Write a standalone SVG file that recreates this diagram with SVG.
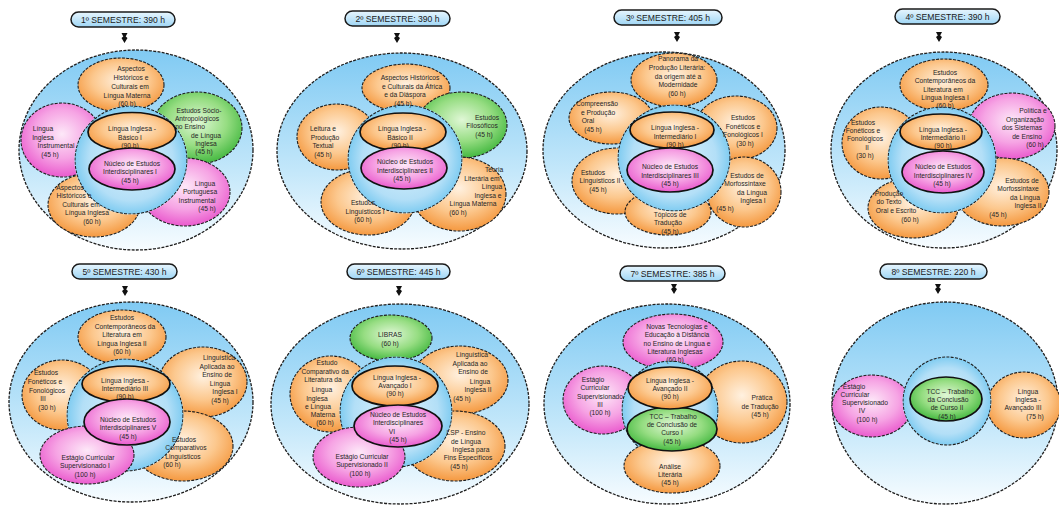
<svg xmlns="http://www.w3.org/2000/svg" width="1059" height="508" viewBox="0 0 1059 508">
<style>
.outer{fill:url(#gOuter);stroke:#1e1e1e;stroke-width:1.3;stroke-dasharray:3 1.3}
.ring{fill:url(#gRing);stroke:#1e1e1e;stroke-width:1.1;stroke-dasharray:3 1.3}
.po{fill:url(#gOr);stroke:#1e1e1e;stroke-width:1.1;stroke-dasharray:3 1.3}
.pp{fill:url(#gPk);stroke:#1e1e1e;stroke-width:1.1;stroke-dasharray:3 1.3}
.pg{fill:url(#gGr);stroke:#1e1e1e;stroke-width:1.1;stroke-dasharray:3 1.3}
.co{fill:url(#gOr);stroke:#111;stroke-width:1.7}
.cp{fill:url(#gPk);stroke:#111;stroke-width:1.7}
.cg{fill:url(#gGr);stroke:#111;stroke-width:1.7}
.pill{fill:url(#gPill);stroke:#1a1a1a;stroke-width:1.5}
.t{font-family:"Liberation Sans",Arial,sans-serif;font-size:6.7px;fill:#262626;text-anchor:middle;dominant-baseline:central}
.pt{font-family:"Liberation Sans",Arial,sans-serif;font-size:8.6px;fill:#1a1a1a;text-anchor:middle;dominant-baseline:central}
.arr{fill:#111}
</style>
<defs>
<linearGradient id="gOuter" x1="0" y1="0" x2="0" y2="1"><stop offset="0" stop-color="#80caf3"/><stop offset="0.6" stop-color="#c3e7fa"/><stop offset="1" stop-color="#f7fcff"/></linearGradient>
<radialGradient id="gRing" cx="0.5" cy="0.5" r="0.5"><stop offset="0" stop-color="#dcf2fc"/><stop offset="0.75" stop-color="#b3dff7"/><stop offset="1" stop-color="#80ccf1"/></radialGradient>
<radialGradient id="gOr" cx="0.5" cy="0.42" r="0.6"><stop offset="0" stop-color="#fff1e0"/><stop offset="0.55" stop-color="#fcc88e"/><stop offset="1" stop-color="#f4953a"/></radialGradient>
<radialGradient id="gPk" cx="0.5" cy="0.42" r="0.6"><stop offset="0" stop-color="#fde8f8"/><stop offset="0.55" stop-color="#f6a4e4"/><stop offset="1" stop-color="#e955cc"/></radialGradient>
<radialGradient id="gGr" cx="0.5" cy="0.42" r="0.6"><stop offset="0" stop-color="#e0f7d6"/><stop offset="0.55" stop-color="#96dd82"/><stop offset="1" stop-color="#3db53b"/></radialGradient>
<linearGradient id="gPill" x1="0" y1="0" x2="0" y2="1"><stop offset="0" stop-color="#e8f6fe"/><stop offset="1" stop-color="#9fd6f5"/></linearGradient>
<path id="arw" class="arr" d="M-3,-5 H3 L1.2,-1.5 L3,0 L0,5 L-3,0 L-1.2,-1.5 Z"/>
<mask id="m1" maskUnits="userSpaceOnUse" x="0" y="0" width="1059" height="508"><rect width="1059" height="508" fill="#fff"/><ellipse cx="131" cy="160" rx="56.6" ry="54.6" fill="#000"/></mask>
<mask id="m2" maskUnits="userSpaceOnUse" x="0" y="0" width="1059" height="508"><rect width="1059" height="508" fill="#fff"/><ellipse cx="405" cy="159" rx="57.6" ry="54.6" fill="#000"/></mask>
<mask id="m3" maskUnits="userSpaceOnUse" x="0" y="0" width="1059" height="508"><rect width="1059" height="508" fill="#fff"/><ellipse cx="674" cy="158" rx="56.6" ry="53.6" fill="#000"/></mask>
<mask id="m4" maskUnits="userSpaceOnUse" x="0" y="0" width="1059" height="508"><rect width="1059" height="508" fill="#fff"/><ellipse cx="942" cy="160" rx="54.6" ry="53.6" fill="#000"/></mask>
<mask id="m5" maskUnits="userSpaceOnUse" x="0" y="0" width="1059" height="508"><rect width="1059" height="508" fill="#fff"/><ellipse cx="125" cy="415" rx="58.6" ry="56.6" fill="#000"/></mask>
<mask id="m6" maskUnits="userSpaceOnUse" x="0" y="0" width="1059" height="508"><rect width="1059" height="508" fill="#fff"/><ellipse cx="396" cy="412" rx="56.6" ry="55.6" fill="#000"/></mask>
<mask id="m7" maskUnits="userSpaceOnUse" x="0" y="0" width="1059" height="508"><rect width="1059" height="508" fill="#fff"/><ellipse cx="670" cy="410" rx="48.6" ry="49.6" fill="#000"/></mask>
<mask id="m8" maskUnits="userSpaceOnUse" x="0" y="0" width="1059" height="508"><rect width="1059" height="508" fill="#fff"/><ellipse cx="947" cy="401" rx="44.6" ry="44.6" fill="#000"/></mask>
</defs>

<g id="connectors">
<use href="#arw" x="124.5" y="38"/>
<use href="#arw" x="397" y="38"/>
<use href="#arw" x="677" y="37"/>
<use href="#arw" x="939" y="37"/>
<use href="#arw" x="125" y="291"/>
<use href="#arw" x="399" y="291"/>
<use href="#arw" x="674" y="289"/>
<use href="#arw" x="938" y="289"/>
</g>

<!-- Semestre 1 -->
<g id="s1-title"><rect class="pill" x="71" y="12" width="104" height="15" rx="7.5"/><text class="pt" x="123" y="19.5">1º SEMESTRE: 390 h</text></g>
<g id="s1-outer"><ellipse class="outer" cx="136" cy="150" rx="117" ry="100"/></g>
<g id="s1-ring"><ellipse class="ring" cx="131" cy="160" rx="56" ry="54"/></g>
<g id="s1-n-instr"><ellipse class="pp" mask="url(#m1)" cx="62" cy="140" rx="41" ry="37"/><text class="t"><tspan x="43" y="128">Língua</tspan><tspan x="43" y="136.5">Inglesa</tspan><tspan x="56" y="145">Instrumental</tspan><tspan x="50" y="153.5">(45 h)</tspan></text></g>
<g id="s1-n-ahclm"><ellipse class="po" mask="url(#m1)" cx="121" cy="85" rx="43" ry="27"/><text class="t"><tspan x="131" y="68">Aspectos</tspan><tspan x="131" y="77">Históricos e</tspan><tspan x="130" y="86">Culturais em</tspan><tspan x="127" y="95">Língua Materna</tspan><tspan x="127" y="103">(60 h)</tspan></text></g>
<g id="s1-n-esa"><ellipse class="pg" mask="url(#m1)" cx="197" cy="128" rx="45" ry="36"/><text class="t"><tspan x="199" y="110">Estudos Sócio-</tspan><tspan x="197" y="118">Antropológicos</tspan><tspan x="190" y="126">no Ensino</tspan><tspan x="206" y="134.5">de Língua</tspan><tspan x="206" y="142.5">Inglesa</tspan><tspan x="204" y="151">(45 h)</tspan></text></g>
<g id="s1-n-lpi"><ellipse class="pp" mask="url(#m1)" cx="185" cy="192" rx="45" ry="34"/><text class="t"><tspan x="205" y="183">Língua</tspan><tspan x="200" y="191">Portuguesa</tspan><tspan x="197" y="199.5">Instrumental</tspan><tspan x="207" y="208">(45 h)</tspan></text></g>
<g id="s1-n-ahcli"><ellipse class="po" mask="url(#m1)" cx="94" cy="205" rx="46" ry="32"/><text class="t"><tspan x="70" y="187">Aspectos</tspan><tspan x="74" y="195">Históricos e</tspan><tspan x="81" y="203.5">Culturais em</tspan><tspan x="87" y="212">Língua Inglesa</tspan><tspan x="92" y="221">(60 h)</tspan></text></g>
<g id="s1-n-lib1"><ellipse class="co" cx="132" cy="132" rx="44" ry="19.5"/><text class="t"><tspan x="132" y="128">Língua Inglesa -</tspan><tspan x="130" y="136.5">Básico I</tspan><tspan x="130" y="145">(90 h)</tspan></text></g>
<g id="s1-n-nei1"><ellipse class="cp" cx="132" cy="169" rx="43" ry="21"/><text class="t"><tspan x="132" y="163">Núcleo de Estudos</tspan><tspan x="130" y="171">Interdisciplinares I</tspan><tspan x="130" y="180">(45 h)</tspan></text></g>

<!-- Semestre 2 -->
<g id="s2-title"><rect class="pill" x="345" y="11" width="105" height="15" rx="7.5"/><text class="pt" x="397.5" y="18.5">2º SEMESTRE: 390 h</text></g>
<g id="s2-outer"><ellipse class="outer" cx="402" cy="151" rx="125" ry="98"/></g>
<g id="s2-ring"><ellipse class="ring" cx="405" cy="159" rx="57" ry="54"/></g>
<g id="s2-n-lpt"><ellipse class="po" mask="url(#m2)" cx="337" cy="137" rx="40" ry="33"/><text class="t"><tspan x="323" y="128">Leitura e</tspan><tspan x="325" y="136.5">Produção</tspan><tspan x="323" y="145">Textual</tspan><tspan x="323" y="153.5">(45 h)</tspan></text></g>
<g id="s2-n-ahcad"><ellipse class="po" mask="url(#m2)" cx="406" cy="88" rx="44" ry="24"/><text class="t"><tspan x="410" y="77">Aspectos Históricos</tspan><tspan x="412" y="85.5">e Culturais da África</tspan><tspan x="405" y="94">e da Diáspora</tspan><tspan x="403" y="102.5">(45 h)</tspan></text></g>
<g id="s2-n-ef"><ellipse class="pg" mask="url(#m2)" cx="462" cy="125" rx="45" ry="33"/><text class="t"><tspan x="487" y="117">Estudos</tspan><tspan x="482" y="125">Filosóficos</tspan><tspan x="484" y="133.5">(45 h)</tspan></text></g>
<g id="s2-n-tl"><ellipse class="po" mask="url(#m2)" cx="459" cy="194" rx="47" ry="37"/><text class="t"><tspan x="494" y="169">Teoria</tspan><tspan x="482" y="177.5">Literária em</tspan><tspan x="492" y="186">Língua</tspan><tspan x="488" y="194.5">Inglesa e</tspan><tspan x="473" y="203">Língua Materna</tspan><tspan x="458" y="211.5">(60 h)</tspan></text></g>
<g id="s2-n-el1"><ellipse class="po" mask="url(#m2)" cx="368" cy="202" rx="47" ry="33"/><text class="t"><tspan x="363" y="202">Estudos</tspan><tspan x="365" y="210.5">Linguísticos I</tspan><tspan x="363" y="219">(60 h)</tspan></text></g>
<g id="s2-n-lib2"><ellipse class="co" cx="403" cy="132" rx="43" ry="19"/><text class="t"><tspan x="402" y="128">Língua Inglesa -</tspan><tspan x="400" y="136.5">Básico II</tspan><tspan x="400" y="144.5">(90 h)</tspan></text></g>
<g id="s2-n-nei2"><ellipse class="cp" cx="404" cy="168" rx="43" ry="21"/><text class="t"><tspan x="405" y="161">Núcleo de Estudos</tspan><tspan x="405" y="169.5">Interdisciplinares II</tspan><tspan x="402" y="178">(45 h)</tspan></text></g>

<!-- Semestre 3 -->
<g id="s3-title"><rect class="pill" x="614" y="10" width="108" height="15" rx="7.5"/><text class="pt" x="668" y="17.5">3º SEMESTRE: 405 h</text></g>
<g id="s3-outer"><ellipse class="outer" cx="664" cy="150" rx="121" ry="98"/></g>
<g id="s3-ring"><ellipse class="ring" cx="674" cy="158" rx="56" ry="53"/></g>
<g id="s3-n-cpo"><ellipse class="po" mask="url(#m3)" cx="611" cy="118" rx="42" ry="26"/><text class="t"><tspan x="597" y="103">Compreensão</tspan><tspan x="598" y="111.5">e Produção</tspan><tspan x="588" y="120">Oral</tspan><tspan x="593" y="128.5">(45 h)</tspan></text></g>
<g id="s3-n-ppl"><ellipse class="po" mask="url(#m3)" cx="674" cy="80" rx="43" ry="27"/><text class="t"><tspan x="678" y="58">Panorama da</tspan><tspan x="677" y="67">Produção Literária:</tspan><tspan x="678" y="75.5">da origem até a</tspan><tspan x="678" y="84">Modernidade</tspan><tspan x="677" y="93">(60 h)</tspan></text></g>
<g id="s3-n-eff1"><ellipse class="po" mask="url(#m3)" cx="736" cy="128" rx="41" ry="32"/><text class="t"><tspan x="743" y="117">Estudos</tspan><tspan x="743" y="125.5">Fonéticos e</tspan><tspan x="743" y="134">Fonológicos I</tspan><tspan x="745" y="142.5">(30 h)</tspan></text></g>
<g id="s3-n-el2"><ellipse class="po" mask="url(#m3)" cx="617" cy="181" rx="45" ry="33"/><text class="t"><tspan x="593" y="172">Estudos</tspan><tspan x="600" y="180">Linguísticos II</tspan><tspan x="598" y="188.5">(45 h)</tspan></text></g>
<g id="s3-n-em1"><ellipse class="po" mask="url(#m3)" cx="744" cy="192" rx="37" ry="35"/><text class="t"><tspan x="747" y="175">Estudos de</tspan><tspan x="745" y="183">Morfossintaxe</tspan><tspan x="752" y="191.5">da Língua</tspan><tspan x="753" y="200">Inglesa I</tspan><tspan x="725" y="208">(45 h)</tspan></text></g>
<g id="s3-n-tt"><ellipse class="po" mask="url(#m3)" cx="668" cy="212" rx="43" ry="23"/><text class="t"><tspan x="670" y="214">Tópicos de</tspan><tspan x="668" y="222">Tradução</tspan><tspan x="670" y="230.5">(45 h)</tspan></text></g>
<g id="s3-n-lii1"><ellipse class="co" cx="672" cy="130" rx="42" ry="18"/><text class="t"><tspan x="675" y="127">Língua Inglesa -</tspan><tspan x="675" y="135.5">Intermediário I</tspan><tspan x="675" y="144">(90 h)</tspan></text></g>
<g id="s3-n-nei3"><ellipse class="cp" cx="670" cy="170" rx="43" ry="22"/><text class="t"><tspan x="670" y="166">Núcleo de Estudos</tspan><tspan x="670" y="174.5">Interdisciplinares III</tspan><tspan x="670" y="183">(45 h)</tspan></text></g>

<!-- Semestre 4 -->
<g id="s4-title"><rect class="pill" x="895" y="9" width="105" height="15" rx="7.5"/><text class="pt" x="947.5" y="16.5">4º SEMESTRE: 390 h</text></g>
<g id="s4-outer"><ellipse class="outer" cx="944" cy="150" rx="113" ry="98"/></g>
<g id="s4-ring"><ellipse class="ring" cx="942" cy="160" rx="54" ry="53"/></g>
<g id="s4-n-eff2"><ellipse class="po" mask="url(#m4)" cx="881" cy="143" rx="39" ry="36"/><text class="t"><tspan x="863" y="122">Estudos</tspan><tspan x="863" y="130">Fonéticos e</tspan><tspan x="865" y="138">Fonológicos</tspan><tspan x="867" y="146.5">II</tspan><tspan x="865" y="155">(30 h)</tspan></text></g>
<g id="s4-n-ecl1"><ellipse class="po" mask="url(#m4)" cx="944" cy="85" rx="44" ry="26"/><text class="t"><tspan x="945" y="72">Estudos</tspan><tspan x="945" y="80">Contemporâneos da</tspan><tspan x="943" y="88.5">Literatura em</tspan><tspan x="945" y="97">Língua Inglesa I</tspan><tspan x="945" y="105">(60 h)</tspan></text></g>
<g id="s4-n-pose"><ellipse class="pp" mask="url(#m4)" cx="1012" cy="126" rx="43" ry="33"/><text class="t"><tspan x="1033" y="110">Política e</tspan><tspan x="1025" y="118.5">Organização</tspan><tspan x="1022" y="127">dos Sistemas</tspan><tspan x="1027" y="135.5">de Ensino</tspan><tspan x="1035" y="144">(60 h)</tspan></text></g>
<g id="s4-n-em2"><ellipse class="po" mask="url(#m4)" cx="1002" cy="192" rx="47" ry="34"/><text class="t"><tspan x="1022" y="180">Estudos de</tspan><tspan x="1018" y="188">Morfossintaxe</tspan><tspan x="1025" y="196.5">da Língua</tspan><tspan x="1028" y="205">Inglesa II</tspan><tspan x="998" y="214">(45 h)</tspan></text></g>
<g id="s4-n-ptoe"><ellipse class="po" mask="url(#m4)" cx="913" cy="208" rx="45" ry="30"/><text class="t"><tspan x="889" y="193">Produção</tspan><tspan x="889" y="201">do Texto</tspan><tspan x="896" y="210">Oral e Escrito</tspan><tspan x="910" y="219">(60 h)</tspan></text></g>
<g id="s4-n-lii2"><ellipse class="co" cx="941" cy="132" rx="41" ry="18"/><text class="t"><tspan x="943" y="129">Língua Inglesa -</tspan><tspan x="943" y="137">Intermediário II</tspan><tspan x="943" y="145">(90 h)</tspan></text></g>
<g id="s4-n-nei4"><ellipse class="cp" cx="943" cy="172" rx="41" ry="21"/><text class="t"><tspan x="943" y="166">Núcleo de Estudos</tspan><tspan x="943" y="174.5">Interdisciplinares IV</tspan><tspan x="942" y="183">(45 h)</tspan></text></g>

<!-- Semestre 5 -->
<g id="s5-title"><rect class="pill" x="72" y="264" width="105" height="15" rx="7.5"/><text class="pt" x="124.5" y="271.5">5º SEMESTRE: 430 h</text></g>
<g id="s5-outer"><ellipse class="outer" cx="131" cy="402" rx="122" ry="100"/></g>
<g id="s5-ring"><ellipse class="ring" cx="125" cy="415" rx="58" ry="56"/></g>
<g id="s5-n-eff3"><ellipse class="po" mask="url(#m5)" cx="62" cy="395" rx="40" ry="35"/><text class="t"><tspan x="46" y="372">Estudos</tspan><tspan x="45" y="380.5">Fonéticos e</tspan><tspan x="47" y="389.5">Fonológicos</tspan><tspan x="43" y="398">III</tspan><tspan x="47" y="406.5">(30 h)</tspan></text></g>
<g id="s5-n-ecl2"><ellipse class="po" mask="url(#m5)" cx="122" cy="337" rx="44" ry="27"/><text class="t"><tspan x="122" y="317">Estudos</tspan><tspan x="125" y="325.5">Contemporâneos da</tspan><tspan x="122" y="334">Literatura em</tspan><tspan x="122" y="342.5">Língua Inglesa II</tspan><tspan x="122" y="351">(60 h)</tspan></text></g>
<g id="s5-n-la1"><ellipse class="po" mask="url(#m5)" cx="203" cy="382" rx="44" ry="35"/><text class="t"><tspan x="219" y="357">Linguística</tspan><tspan x="217" y="365.5">Aplicada ao</tspan><tspan x="217" y="374">Ensino de</tspan><tspan x="220" y="382.5">Língua</tspan><tspan x="225" y="391">Inglesa I</tspan><tspan x="220" y="399.5">(45 h)</tspan></text></g>
<g id="s5-n-ecl"><ellipse class="po" mask="url(#m5)" cx="183" cy="446" rx="50" ry="35"/><text class="t"><tspan x="184" y="439">Estudos</tspan><tspan x="186" y="447">Comparativos</tspan><tspan x="183" y="455.5">Linguísticos</tspan><tspan x="172" y="464">(60 h)</tspan></text></g>
<g id="s5-n-ecs1"><ellipse class="pp" cx="87" cy="455" rx="47" ry="29"/><text class="t"><tspan x="88" y="457">Estágio Curricular</tspan><tspan x="85" y="465">Supervisionado I</tspan><tspan x="85" y="473.5">(100 h)</tspan></text></g>
<g id="s5-n-lii3"><ellipse class="co" cx="126" cy="384" rx="44" ry="18"/><text class="t"><tspan x="125" y="380">Língua Inglesa -</tspan><tspan x="125" y="388">Intermediário III</tspan><tspan x="125" y="396">(90 h)</tspan></text></g>
<g id="s5-n-nei5"><ellipse class="cp" cx="127" cy="422" rx="43" ry="23"/><text class="t"><tspan x="128" y="419">Núcleo de Estudos</tspan><tspan x="128" y="427">Interdisciplinares V</tspan><tspan x="128" y="435.5">(45 h)</tspan></text></g>

<!-- Semestre 6 -->
<g id="s6-title"><rect class="pill" x="347" y="264" width="103" height="15" rx="7.5"/><text class="pt" x="398.5" y="271.5">6º SEMESTRE: 445 h</text></g>
<g id="s6-outer"><ellipse class="outer" cx="400" cy="404" rx="129" ry="100"/></g>
<g id="s6-ring"><ellipse class="ring" cx="396" cy="412" rx="56" ry="55"/></g>
<g id="s6-n-libras"><ellipse class="pg" mask="url(#m6)" cx="391" cy="338" rx="41" ry="23"/><text class="t"><tspan x="390" y="334">LIBRAS</tspan><tspan x="390" y="342.5">(60 h)</tspan></text></g>
<g id="s6-n-ecl"><ellipse class="po" mask="url(#m6)" cx="331" cy="394" rx="41" ry="38"/><text class="t"><tspan x="327" y="362">Estudo</tspan><tspan x="325" y="370.5">Comparativo da</tspan><tspan x="323" y="379">Literatura da</tspan><tspan x="322" y="388.5">Língua</tspan><tspan x="317" y="397.5">Inglesa</tspan><tspan x="318" y="406">e Língua</tspan><tspan x="323" y="414">Materna</tspan><tspan x="325" y="422">(60 h)</tspan></text></g>
<g id="s6-n-la2"><ellipse class="po" mask="url(#m6)" cx="460" cy="380" rx="48" ry="34"/><text class="t"><tspan x="472" y="354">Linguística</tspan><tspan x="470" y="362.5">Aplicada ao</tspan><tspan x="473" y="371">Ensino de</tspan><tspan x="480" y="380.5">Língua</tspan><tspan x="478" y="389">Inglesa II</tspan><tspan x="462" y="397.5">(45 h)</tspan></text></g>
<g id="s6-n-lsp"><ellipse class="po" mask="url(#m6)" cx="455" cy="446" rx="50" ry="35"/><text class="t"><tspan x="466" y="432">LSP - Ensino</tspan><tspan x="466" y="440.5">de Língua</tspan><tspan x="471" y="449">Inglesa para</tspan><tspan x="468" y="457">Fins Específicos</tspan><tspan x="459" y="465.5">(45 h)</tspan></text></g>
<g id="s6-n-ecs2"><ellipse class="pp" cx="359" cy="457" rx="46" ry="30"/><text class="t"><tspan x="362" y="456">Estágio Curricular</tspan><tspan x="362" y="464">Supervisionado II</tspan><tspan x="360" y="473">(100 h)</tspan></text></g>
<g id="s6-n-lia1"><ellipse class="co" cx="395" cy="386" rx="43" ry="20"/><text class="t"><tspan x="397" y="377">Língua Inglesa -</tspan><tspan x="395" y="385">Avançado I</tspan><tspan x="395" y="393">(90 h)</tspan></text></g>
<g id="s6-n-nei6"><ellipse class="cp" cx="398" cy="426" rx="44" ry="21"/><text class="t"><tspan x="398" y="414">Núcleo de Estudos</tspan><tspan x="398" y="422">Interdisciplinares</tspan><tspan x="392" y="430.5">VI</tspan><tspan x="398" y="439">(45 h)</tspan></text></g>

<!-- Semestre 7 -->
<g id="s7-title"><rect class="pill" x="620" y="266" width="105" height="15" rx="7.5"/><text class="pt" x="672.5" y="273.5">7º SEMESTRE: 385 h</text></g>
<g id="s7-outer"><ellipse class="outer" cx="667" cy="404" rx="123" ry="100"/></g>
<g id="s7-ring"><ellipse class="ring" cx="670" cy="410" rx="48" ry="49"/></g>
<g id="s7-n-nted"><ellipse class="pp" mask="url(#m7)" cx="673" cy="342" rx="50" ry="28"/><text class="t"><tspan x="677" y="326">Novas Tecnologias e</tspan><tspan x="677" y="334">Educação à Distância</tspan><tspan x="677" y="342.5">no Ensino de Língua e</tspan><tspan x="675" y="351">Literatura Inglesas</tspan><tspan x="675" y="359">(60 h)</tspan></text></g>
<g id="s7-n-ecs3"><ellipse class="pp" mask="url(#m7)" cx="603" cy="400" rx="40" ry="34"/><text class="t"><tspan x="593" y="379">Estágio</tspan><tspan x="595" y="387">Curricular</tspan><tspan x="600" y="396">Supervisionado</tspan><tspan x="600" y="404">III</tspan><tspan x="600" y="412">(100 h)</tspan></text></g>
<g id="s7-n-pt"><ellipse class="po" mask="url(#m7)" cx="742" cy="402" rx="45" ry="41"/><text class="t"><tspan x="762" y="397">Prática</tspan><tspan x="760" y="405.5">de Tradução</tspan><tspan x="760" y="414">(45 h)</tspan></text></g>
<g id="s7-n-al"><ellipse class="po" cx="672" cy="466" rx="48" ry="27"/><text class="t"><tspan x="670" y="466">Análise</tspan><tspan x="670" y="474">Literária</tspan><tspan x="670" y="482">(45 h)</tspan></text></g>
<g id="s7-n-tcc1"><ellipse class="cg" cx="672" cy="429" rx="45" ry="22"/><text class="t"><tspan x="673" y="416">TCC – Trabalho</tspan><tspan x="672" y="424">de Conclusão de</tspan><tspan x="672" y="432">Curso I</tspan><tspan x="672" y="440.5">(45 h)</tspan></text></g>
<g id="s7-n-lia2"><ellipse class="co" cx="670" cy="388" rx="42" ry="21"/><text class="t"><tspan x="670" y="380">Língua Inglesa -</tspan><tspan x="670" y="388">Avançado II</tspan><tspan x="670" y="396">(90 h)</tspan></text></g>

<!-- Semestre 8 -->
<g id="s8-title"><rect class="pill" x="880" y="264" width="107" height="15" rx="7.5"/><text class="pt" x="933.5" y="271.5">8º SEMESTRE: 220 h</text></g>
<g id="s8-outer"><ellipse class="outer" cx="945" cy="403" rx="113" ry="101"/></g>
<g id="s8-ring"><ellipse class="ring" cx="947" cy="401" rx="44" ry="44"/></g>
<g id="s8-n-ecs4"><ellipse class="pp" mask="url(#m8)" cx="872" cy="406" rx="40" ry="31"/><text class="t"><tspan x="854" y="386">Estágio</tspan><tspan x="855" y="393.5">Curricular</tspan><tspan x="865" y="402">Supervisionado</tspan><tspan x="862" y="410">IV</tspan><tspan x="867" y="418.5">(100 h)</tspan></text></g>
<g id="s8-n-lia3"><ellipse class="po" mask="url(#m8)" cx="1024" cy="405" rx="37" ry="33"/><text class="t"><tspan x="1028" y="391">Língua</tspan><tspan x="1028" y="399">Inglesa -</tspan><tspan x="1023" y="407">Avançado III</tspan><tspan x="1035" y="416">(75 h)</tspan></text></g>
<g id="s8-n-tcc2"><ellipse class="cg" cx="946" cy="399" rx="36" ry="22"/><text class="t"><tspan x="950" y="391">TCC – Trabalho</tspan><tspan x="948" y="399">da Conclusão</tspan><tspan x="947" y="407">de Curso  II</tspan><tspan x="947" y="416">(45 h)</tspan></text></g>
</svg>
